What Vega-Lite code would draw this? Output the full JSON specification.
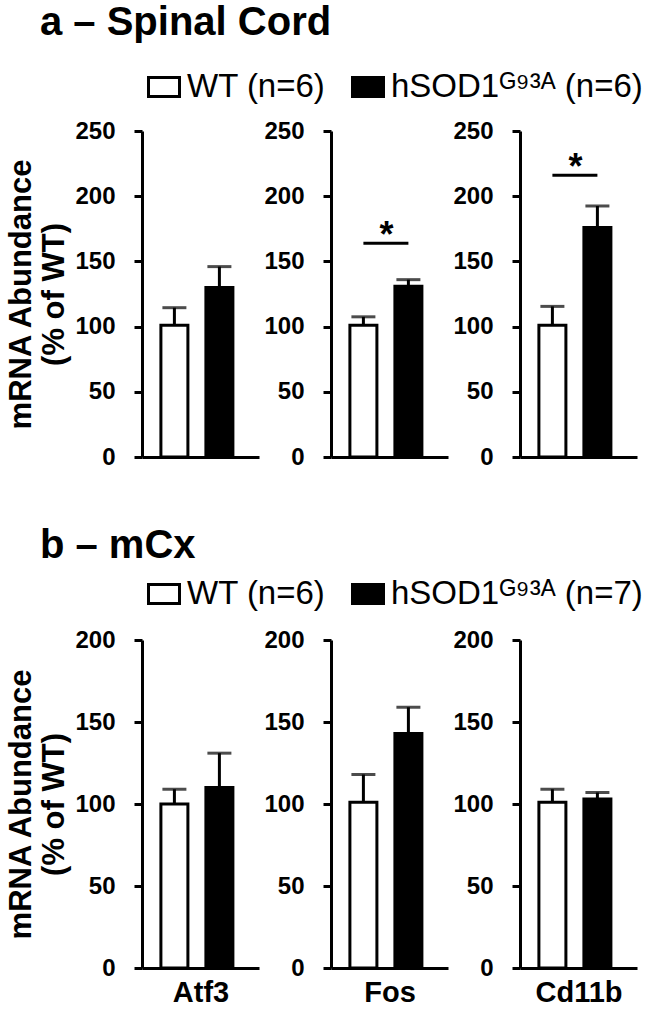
{
  "$schema": "https://vega.github.io/schema/vega-lite/v6.json",
  "background": "white",
  "padding": {"left": 5, "top": 3, "right": 5, "bottom": 2},
  "datasets": {
    "sc": [
      {"gene": "Atf3", "group": "WT", "mean": 101, "upper": 114.5},
      {"gene": "Atf3", "group": "hSOD1", "mean": 130, "upper": 146},
      {"gene": "Fos", "group": "WT", "mean": 101, "upper": 107.5},
      {"gene": "Fos", "group": "hSOD1", "mean": 131, "upper": 136},
      {"gene": "Cd11b", "group": "WT", "mean": 101, "upper": 115.5},
      {"gene": "Cd11b", "group": "hSOD1", "mean": 176, "upper": 192.5}
    ],
    "sc_sig": [
      {"gene": "Fos", "g1": "WT", "g2": "hSOD1", "level": 164, "label": "*"},
      {"gene": "Cd11b", "g1": "WT", "g2": "hSOD1", "level": 216, "label": "*"}
    ],
    "mcx": [
      {"gene": "Atf3", "group": "WT", "mean": 100, "upper": 109},
      {"gene": "Atf3", "group": "hSOD1", "mean": 110, "upper": 131},
      {"gene": "Fos", "group": "WT", "mean": 101, "upper": 118},
      {"gene": "Fos", "group": "hSOD1", "mean": 143, "upper": 159},
      {"gene": "Cd11b", "group": "WT", "mean": 101, "upper": 109},
      {"gene": "Cd11b", "group": "hSOD1", "mean": 103, "upper": 107}
    ]
  },
  "config": {
    "font": "Liberation Sans",
    "view": {"stroke": null},
    "axis": {
      "domainColor": "black", "domainWidth": 3, "tickColor": "black", "tickWidth": 3, "tickSize": 8,
      "labelFont": "Liberation Sans", "labelFontSize": 24, "labelFontWeight": "bold", "labelColor": "black",
      "titleFont": "Liberation Sans", "titleFontSize": 31, "titleFontWeight": "bold", "titleColor": "black",
      "grid": false, "labelPadding": 19
    },
    "axisY": {"titlePadding": 4, "titleLineHeight": 33},
    "axisX": {"titlePadding": 10, "titleFontSize": 29, "labels": false, "ticks": false, "labelPadding": 15},
    "title": {"font": "Liberation Sans", "fontSize": 40, "fontWeight": "bold", "color": "black", "anchor": "start"}
  },
  "spacing": 57,
  "vconcat": [
    {
      "title": {"text": "a – Spinal Cord", "anchor": "start", "frame": "bounds", "dx": 34, "offset": 22},
      "bounds": "flush",
      "spacing": 72,
      "resolve": {"scale": {"fill": "independent", "x": "independent", "y": "independent"}, "legend": {"fill": "independent"}},
      "hconcat": [
        {
          "width": 117, "height": 326,
          "data": {"name": "sc"},
          "transform": [{"filter": "datum.gene === 'Atf3'"}],
          "layer": [
            {"mark": {"type": "bar", "stroke": "black", "strokeWidth": 3},
             "encoding": {
               "x": {"field": "group", "type": "nominal", "scale": {"domain": ["WT", "hSOD1"], "paddingInner": 0.4, "paddingOuter": 0.5, "align": 0.42}, "axis": {"title": null}},
               "y": {"field": "mean", "type": "quantitative", "scale": {"domain": [0, 250], "nice": false}, "axis": {"values": [0, 50, 100, 150, 200, 250], "title": ["mRNA Abundance", "(% of WT)"]}},
               "fill": {"field": "group", "type": "nominal", "scale": {"domain": ["WT", "hSOD1"], "range": ["white", "black"]},
                 "legend": {"orient": "top", "direction": "horizontal", "title": null, "padding": 5, "symbolType": "M-1,-0.613H1V0.613H-1Z", "symbolSize": 961, "symbolStrokeColor": "black", "symbolStrokeWidth": 3, "labelFontSize": 33, "labelFontWeight": "normal", "labelColor": "black", "labelOffset": 6, "columnPadding": 20, "labelLimit": 400, "offset": 22,
                   "labelExpr": "datum.value === 'WT' ? 'WT (n=6)' : ' hSOD1ᴳ⁹³ᴬ (n=6)'"}}
             }},
            {"mark": {"type": "rule", "strokeWidth": 3, "color": "black"},
             "encoding": {
               "x": {"field": "group", "type": "nominal", "axis": {"title": null}},
               "y": {"field": "mean", "type": "quantitative", "axis": {"title": ["mRNA Abundance", "(% of WT)"]}},
               "y2": {"field": "upper"}
             }},
            {"mark": {"type": "tick", "thickness": 3, "size": 24, "color": "black"},
             "encoding": {
               "x": {"field": "group", "type": "nominal", "axis": {"title": null}},
               "y": {"field": "upper", "type": "quantitative", "axis": {"title": ["mRNA Abundance", "(% of WT)"]}}
             }}
          ]
        },
        {
          "width": 117, "height": 326,
          "data": {"name": "sc"},
          "transform": [{"filter": "datum.gene === 'Fos'"}],
          "layer": [
            {"mark": {"type": "bar", "stroke": "black", "strokeWidth": 3},
             "encoding": {
               "x": {"field": "group", "type": "nominal", "scale": {"domain": ["WT", "hSOD1"], "paddingInner": 0.4, "paddingOuter": 0.5, "align": 0.42}, "axis": {"title": null}},
               "y": {"field": "mean", "type": "quantitative", "scale": {"domain": [0, 250], "nice": false}, "axis": {"values": [0, 50, 100, 150, 200, 250], "title": null}},
               "fill": {"field": "group", "type": "nominal", "scale": {"domain": ["WT", "hSOD1"], "range": ["white", "black"]}, "legend": null}
             }},
            {"mark": {"type": "rule", "strokeWidth": 3, "color": "black"},
             "encoding": {
               "x": {"field": "group", "type": "nominal", "axis": {"title": null}},
               "y": {"field": "mean", "type": "quantitative", "axis": {"title": null}},
               "y2": {"field": "upper"}
             }},
            {"mark": {"type": "tick", "thickness": 3, "size": 24, "color": "black"},
             "encoding": {
               "x": {"field": "group", "type": "nominal", "axis": {"title": null}},
               "y": {"field": "upper", "type": "quantitative", "axis": {"title": null}}
             }},
            {"data": {"name": "sc_sig"},
             "transform": [{"filter": "datum.gene === 'Fos'"}],
             "mark": {"type": "rule", "strokeWidth": 3, "color": "black"},
             "encoding": {
               "x": {"field": "g1", "type": "nominal", "axis": {"title": null}},
               "x2": {"field": "g2"},
               "y": {"field": "level", "type": "quantitative", "axis": {"title": null}}
             }},
            {"data": {"name": "sc_sig"},
             "transform": [{"filter": "datum.gene === 'Fos'"}],
             "mark": {"type": "text", "fontSize": 36, "fontWeight": "bold", "baseline": "alphabetic", "dx": 23, "dy": 4, "color": "black"},
             "encoding": {
               "x": {"field": "g1", "type": "nominal", "axis": {"title": null}},
               "y": {"field": "level", "type": "quantitative", "axis": {"title": null}},
               "text": {"field": "label"}
             }}
          ]
        },
        {
          "width": 117, "height": 326,
          "data": {"name": "sc"},
          "transform": [{"filter": "datum.gene === 'Cd11b'"}],
          "layer": [
            {"mark": {"type": "bar", "stroke": "black", "strokeWidth": 3},
             "encoding": {
               "x": {"field": "group", "type": "nominal", "scale": {"domain": ["WT", "hSOD1"], "paddingInner": 0.4, "paddingOuter": 0.5, "align": 0.42}, "axis": {"title": null}},
               "y": {"field": "mean", "type": "quantitative", "scale": {"domain": [0, 250], "nice": false}, "axis": {"values": [0, 50, 100, 150, 200, 250], "title": null}},
               "fill": {"field": "group", "type": "nominal", "scale": {"domain": ["WT", "hSOD1"], "range": ["white", "black"]}, "legend": null}
             }},
            {"mark": {"type": "rule", "strokeWidth": 3, "color": "black"},
             "encoding": {
               "x": {"field": "group", "type": "nominal", "axis": {"title": null}},
               "y": {"field": "mean", "type": "quantitative", "axis": {"title": null}},
               "y2": {"field": "upper"}
             }},
            {"mark": {"type": "tick", "thickness": 3, "size": 24, "color": "black"},
             "encoding": {
               "x": {"field": "group", "type": "nominal", "axis": {"title": null}},
               "y": {"field": "upper", "type": "quantitative", "axis": {"title": null}}
             }},
            {"data": {"name": "sc_sig"},
             "transform": [{"filter": "datum.gene === 'Cd11b'"}],
             "mark": {"type": "rule", "strokeWidth": 3, "color": "black"},
             "encoding": {
               "x": {"field": "g1", "type": "nominal", "axis": {"title": null}},
               "x2": {"field": "g2"},
               "y": {"field": "level", "type": "quantitative", "axis": {"title": null}}
             }},
            {"data": {"name": "sc_sig"},
             "transform": [{"filter": "datum.gene === 'Cd11b'"}],
             "mark": {"type": "text", "fontSize": 36, "fontWeight": "bold", "baseline": "alphabetic", "dx": 23, "dy": 4, "color": "black"},
             "encoding": {
               "x": {"field": "g1", "type": "nominal", "axis": {"title": null}},
               "y": {"field": "level", "type": "quantitative", "axis": {"title": null}},
               "text": {"field": "label"}
             }}
          ]
        }
      ]
    },
    {
      "title": {"text": "b – mCx", "anchor": "start", "frame": "bounds", "dx": 34, "offset": 6},
      "bounds": "flush",
      "spacing": 72,
      "resolve": {"scale": {"fill": "independent", "x": "independent", "y": "independent"}, "legend": {"fill": "independent"}},
      "hconcat": [
        {
          "width": 117, "height": 328,
          "data": {"name": "mcx"},
          "transform": [{"filter": "datum.gene === 'Atf3'"}],
          "layer": [
            {"mark": {"type": "bar", "stroke": "black", "strokeWidth": 3},
             "encoding": {
               "x": {"field": "group", "type": "nominal", "scale": {"domain": ["WT", "hSOD1"], "paddingInner": 0.4, "paddingOuter": 0.5, "align": 0.42}, "axis": {"title": "Atf3"}},
               "y": {"field": "mean", "type": "quantitative", "scale": {"domain": [0, 200], "nice": false}, "axis": {"values": [0, 50, 100, 150, 200], "title": ["mRNA Abundance", "(% of WT)"]}},
               "fill": {"field": "group", "type": "nominal", "scale": {"domain": ["WT", "hSOD1"], "range": ["white", "black"]},
                 "legend": {"orient": "top", "direction": "horizontal", "title": null, "padding": 5, "symbolType": "M-1,-0.613H1V0.613H-1Z", "symbolSize": 961, "symbolStrokeColor": "black", "symbolStrokeWidth": 3, "labelFontSize": 33, "labelFontWeight": "normal", "labelColor": "black", "labelOffset": 6, "columnPadding": 20, "labelLimit": 400, "offset": 24,
                   "labelExpr": "datum.value === 'WT' ? 'WT (n=6)' : ' hSOD1ᴳ⁹³ᴬ (n=7)'"}}
             }},
            {"mark": {"type": "rule", "strokeWidth": 3, "color": "black"},
             "encoding": {
               "x": {"field": "group", "type": "nominal", "axis": {"title": "Atf3"}},
               "y": {"field": "mean", "type": "quantitative", "axis": {"title": ["mRNA Abundance", "(% of WT)"]}},
               "y2": {"field": "upper"}
             }},
            {"mark": {"type": "tick", "thickness": 3, "size": 24, "color": "black"},
             "encoding": {
               "x": {"field": "group", "type": "nominal", "axis": {"title": "Atf3"}},
               "y": {"field": "upper", "type": "quantitative", "axis": {"title": ["mRNA Abundance", "(% of WT)"]}}
             }}
          ]
        },
        {
          "width": 117, "height": 328,
          "data": {"name": "mcx"},
          "transform": [{"filter": "datum.gene === 'Fos'"}],
          "layer": [
            {"mark": {"type": "bar", "stroke": "black", "strokeWidth": 3},
             "encoding": {
               "x": {"field": "group", "type": "nominal", "scale": {"domain": ["WT", "hSOD1"], "paddingInner": 0.4, "paddingOuter": 0.5, "align": 0.42}, "axis": {"title": "Fos"}},
               "y": {"field": "mean", "type": "quantitative", "scale": {"domain": [0, 200], "nice": false}, "axis": {"values": [0, 50, 100, 150, 200], "title": null}},
               "fill": {"field": "group", "type": "nominal", "scale": {"domain": ["WT", "hSOD1"], "range": ["white", "black"]}, "legend": null}
             }},
            {"mark": {"type": "rule", "strokeWidth": 3, "color": "black"},
             "encoding": {
               "x": {"field": "group", "type": "nominal", "axis": {"title": "Fos"}},
               "y": {"field": "mean", "type": "quantitative", "axis": {"title": null}},
               "y2": {"field": "upper"}
             }},
            {"mark": {"type": "tick", "thickness": 3, "size": 24, "color": "black"},
             "encoding": {
               "x": {"field": "group", "type": "nominal", "axis": {"title": "Fos"}},
               "y": {"field": "upper", "type": "quantitative", "axis": {"title": null}}
             }}
          ]
        },
        {
          "width": 117, "height": 328,
          "data": {"name": "mcx"},
          "transform": [{"filter": "datum.gene === 'Cd11b'"}],
          "layer": [
            {"mark": {"type": "bar", "stroke": "black", "strokeWidth": 3},
             "encoding": {
               "x": {"field": "group", "type": "nominal", "scale": {"domain": ["WT", "hSOD1"], "paddingInner": 0.4, "paddingOuter": 0.5, "align": 0.42}, "axis": {"title": "Cd11b"}},
               "y": {"field": "mean", "type": "quantitative", "scale": {"domain": [0, 200], "nice": false}, "axis": {"values": [0, 50, 100, 150, 200], "title": null}},
               "fill": {"field": "group", "type": "nominal", "scale": {"domain": ["WT", "hSOD1"], "range": ["white", "black"]}, "legend": null}
             }},
            {"mark": {"type": "rule", "strokeWidth": 3, "color": "black"},
             "encoding": {
               "x": {"field": "group", "type": "nominal", "axis": {"title": "Cd11b"}},
               "y": {"field": "mean", "type": "quantitative", "axis": {"title": null}},
               "y2": {"field": "upper"}
             }},
            {"mark": {"type": "tick", "thickness": 3, "size": 24, "color": "black"},
             "encoding": {
               "x": {"field": "group", "type": "nominal", "axis": {"title": "Cd11b"}},
               "y": {"field": "upper", "type": "quantitative", "axis": {"title": null}}
             }}
          ]
        }
      ]
    }
  ]
}
